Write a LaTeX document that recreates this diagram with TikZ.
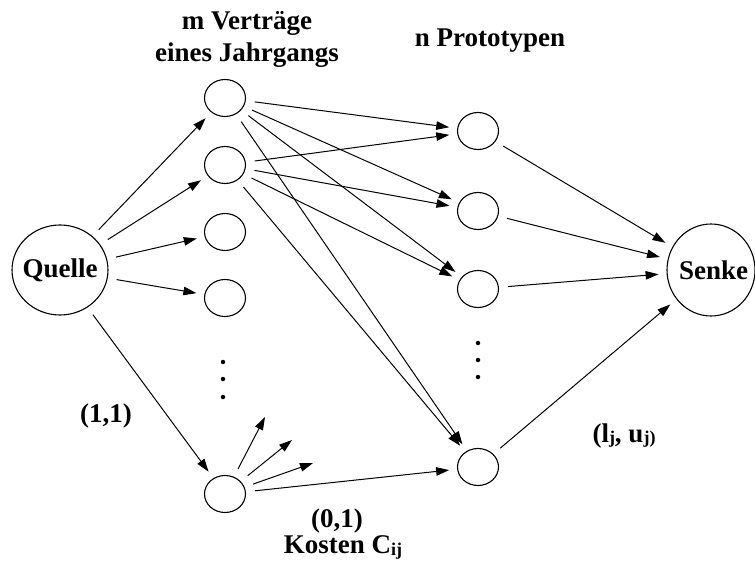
\documentclass[tikz,border=0pt]{standalone}
\usepackage{fontspec}
\setmainfont{Liberation Serif}
\usetikzlibrary{arrows.meta,shapes.geometric}
\begin{document}
\begin{tikzpicture}[x=1pt,y=-1pt,
  vert/.style={draw,ellipse,line width=1.1pt,minimum width=41pt,minimum height=37pt,inner sep=0pt},
  big/.style={draw,ellipse,line width=1.1pt,inner sep=0pt,label={[font=\fontsize{27}{30}\selectfont\bfseries,inner sep=0pt]center:#1}},
  lab/.style={font=\fontsize{27}{32}\selectfont\bfseries,anchor=base,inner sep=0pt},
  arc/.style={line width=1pt,-{Triangle[length=13pt,width=8.5pt]},shorten <=9pt,shorten >=8pt},
  dot/.style={circle,fill,inner sep=0pt,minimum size=4.5pt}]
\useasboundingbox (0,0) rectangle (755,564);

% source and sink
\node[big=Quelle,minimum width=96pt,minimum height=90pt] (q) at (60,270) {};
\node[big={\hspace*{5pt}Senke},minimum width=88pt,minimum height=92pt] (s) at (711,270) {};

% contracts
\node[vert] (a1) at (225,98) {};
\node[vert] (a2) at (225,165) {};
\node[vert] (a3) at (225,232) {};
\node[vert] (a4) at (225,298) {};
\node[vert] (a5) at (225,494) {};
\node[dot] (da1) at (223,362) {};
\node[dot] (da2) at (223,379) {};
\node[dot] (da3) at (223,397) {};

% prototypes
\node[vert] (b1) at (478,131) {};
\node[vert] (b2) at (478,211) {};
\node[vert] (b3) at (478,289) {};
\node[vert] (b5) at (478,467) {};
\node[dot] (db1) at (478,343) {};
\node[dot] (db2) at (478,360) {};
\node[dot] (db3) at (478,377) {};

% headings and edge labels
\node[lab] (t1) at (247,30) {m Verträge};
\node[lab] (t2) at (247,62) {eines Jahrgangs};
\node[lab] (t3) at (490,47) {n Prototypen};
\node[lab] (w1) at (106,422) {(1,1)};
\node[lab] (w2) at (337,527) {(0,1)};
\node[lab] (w3) at (343,553) {Kosten C\raisebox{-2pt}{\fontsize{18}{20}\selectfont ij}};
\node[lab] (w4) at (624,442) {(l\raisebox{-1pt}{\fontsize{18}{20}\selectfont j}, u\raisebox{-1pt}{\fontsize{18}{20}\selectfont j)}};

% free ends of the fan below
\coordinate (f1) at (265,417);
\coordinate (f2) at (292,440);
\coordinate (f3) at (313,463);

% source edges
\foreach \t in {a1,a2,a3,a4,a5} \draw[arc] (q) -- (\t);

% contract to prototype edges
\draw[arc] (a1) -- (b1);
\draw[arc] (a1) -- (b2);
\draw[arc] (a1) -- (b3);
\draw[arc] (a1) -- (b5);
\draw[arc] (a2) -- (b1);
\draw[arc] (a2) -- (b2);
\draw[arc] (a2) -- (b3);
\draw[arc] (a2) -- (b5);
\draw[arc] (a5) -- (b5);
\foreach \f in {f1,f2,f3} \draw[arc,shorten >=0pt] (a5) -- (\f);

% prototype to sink edges
\foreach \t in {b1,b2,b3,b5} \draw[arc] (\t) -- (s);
\end{tikzpicture}
\end{document}
